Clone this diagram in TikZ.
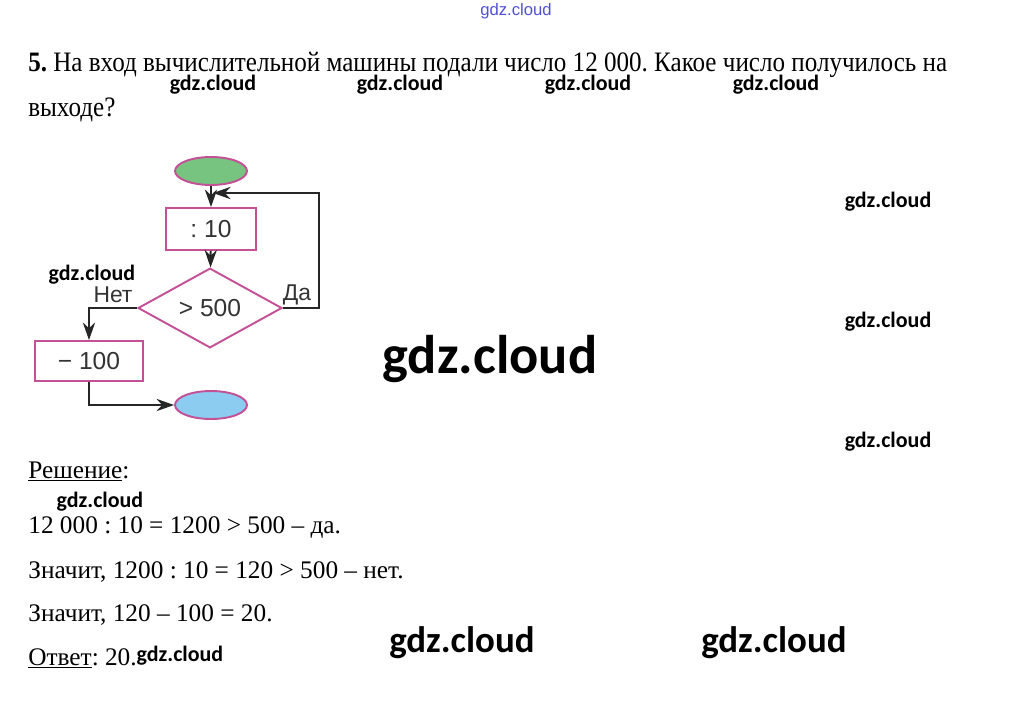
\documentclass[tikz,border=0pt]{standalone}
\usepackage{fontspec}
\usepackage{tikz}
\usepackage{xcolor}
\setmainfont{Liberation Serif}
\newfontfamily\flowfont{Liberation Sans}
\newfontfamily\wmfont{Carlito}
\usetikzlibrary{shapes.geometric,arrows.meta}
\definecolor{boxline}{RGB}{196,80,150}
\definecolor{startfill}{RGB}{118,196,128}
\definecolor{stopfill}{RGB}{140,204,240}
\definecolor{wmblue}{RGB}{80,80,210}
\frenchspacing

\begin{document}
\begin{tikzpicture}[x=0.02cm,y=-0.02cm,
  every node/.style={inner sep=0pt},
  block/.style={draw=boxline,line width=1.1pt,fill=white,font=\flowfont\fontsize{14}{16}\selectfont,text=black!80},
  terminal/.style={ellipse,draw=boxline,line width=1.1pt,minimum width=1.44cm,minimum height=0.56cm},
  decision/.style={block,diamond,minimum width=2.88cm,minimum height=1cm},
  flowlabel/.style={font=\flowfont\fontsize{13}{15}\selectfont,text=black!80},
  line/.style={line width=1.1pt,black!85},
  arr/.style={line,-{Stealth[length=10pt,width=7pt]}},
  task/.style={anchor=base west,font=\fontsize{14.4}{16}\selectfont},
  wm/.style={font=\wmfont\bfseries\fontsize{12.5}{14}\selectfont},
  wmbig/.style={font=\wmfont\bfseries\fontsize{21}{24}\selectfont}]
\useasboundingbox (0,0) rectangle (1033,700);
% heading
\node[font=\flowfont\fontsize{9.5}{11}\selectfont,text=wmblue] (wmtop) at (516,11) {gdz.cloud};
\node[task,font=\fontsize{16}{18}\selectfont,xscale=0.892] (qline1) at (28,71) {\textbf{5.} На вход вычислительной машины подали число 12 000. Какое число получилось на};
\node[task,font=\fontsize{16}{18}\selectfont,xscale=0.892] (qline2) at (28,116) {выходе?};
% flowchart
\node[terminal,fill=startfill] (start) at (211,171) {};
\node[block,minimum width=1.8cm,minimum height=0.84cm] (div) at (211,229) {: 10};
\node[decision] (cmp) at (210,308) {> 500};
\node[block,minimum width=2.16cm,minimum height=0.8cm] (minus) at (89,361) {− 100};
\node[terminal,fill=stopfill] (stop) at (211,405) {};
\coordinate (join) at (213,193);
\draw[arr] (start) -- (div);
\draw[arr] (div) -- (cmp);
\draw[arr] (cmp.east) -- ++(36,0) |- (join);
\draw[arr] (cmp.west) -| (minus.north);
\draw[arr] (minus.south) |- (stop.west);
\node[flowlabel] (yes) at (297,295) {Да};
\node[flowlabel] (no) at (113,295) {Нет};
% solution
\node[task] (sol) at (28,478) {\underline{Решение}:};
\node[task] (step1) at (28,533) {12 000 : 10 = 1200 > 500 – да.};
\node[task] (step2) at (28,578) {Значит, 1200 : 10 = 120 > 500 – нет.};
\node[task] (step3) at (28,621) {Значит, 120 – 100 = 20.};
\node[task] (answer) at (28,665) {\underline{Ответ}: 20.};
% watermarks
\foreach \wx in {213,400,588,776} \node[wm] at (\wx,85) {gdz.cloud};
\foreach \wy in {202,322,442} \node[wm] at (888,\wy) {gdz.cloud};
\node[wm] (wma) at (92,275) {gdz.cloud};
\node[wm] (wmb) at (100,502) {gdz.cloud};
\node[wm] (wmc) at (180,656) {gdz.cloud};
\node[font=\wmfont\bfseries\fontsize{31}{34}\selectfont] (wmmid) at (490,359) {gdz.cloud};
\node[wmbig] (wmd) at (462,643) {gdz.cloud};
\node[wmbig] (wme) at (774,643) {gdz.cloud};
\end{tikzpicture}
\end{document}
